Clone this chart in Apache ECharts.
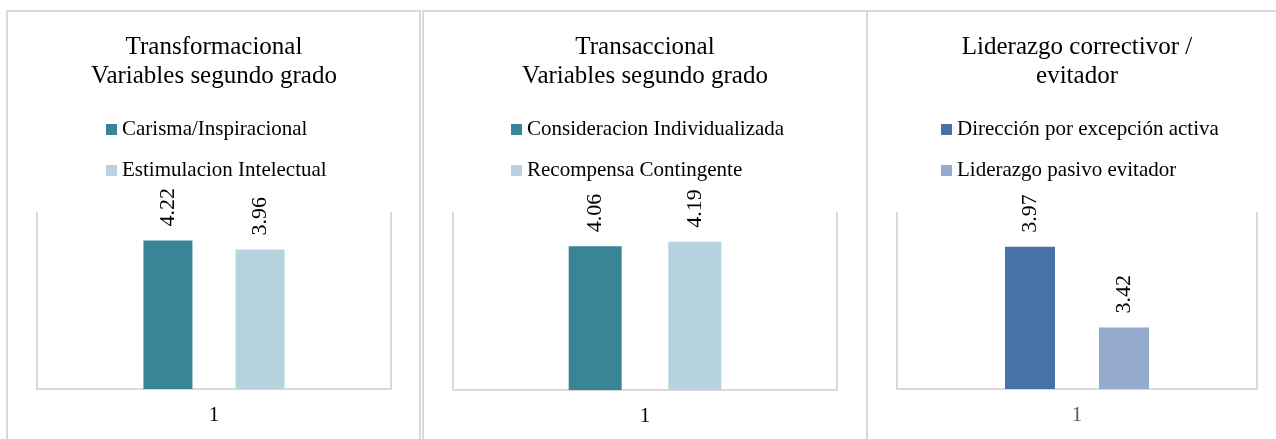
<!DOCTYPE html>
<html>
<head>
<meta charset="utf-8">
<script src="https://cdn.jsdelivr.net/npm/echarts@6/dist/echarts.min.js"></script>
<style>
  html, body { margin: 0; padding: 0; background: #fff; }
  #chart { width: 1276px; height: 439px; }
</style>
</head>
<body>
<div id="chart"></div>
<script>
const titles = ['Transformacional\nVariables segundo grado', 'Transaccional\nVariables segundo grado', 'Liderazgo correctivor /\nevitador'];
const categories = ['1'];
const seriesNames = [
  ['Carisma/Inspiracional', 'Estimulacion Intelectual'],
  ['Consideracion Individualizada', 'Recompensa Contingente'],
  ['Dirección por excepción activa', 'Liderazgo pasivo evitador']
];
const seriesValues = [
  [4.22, 3.96],
  [4.06, 4.19],
  [3.97, 3.42]
];
const axisMin = [0, 0, 3];
const axisMax = [5, 5, 4.2];

const font = 'Liberation Serif';
const colors = [['#3A8498', '#B5D4DF'], ['#3A8498', '#B5D4DF'], ['#4672A6', '#95AACF']];
const grids = [
  { left: 37, top: 213, width: 354, height: 176 },
  { left: 453, top: 213, width: 384, height: 177 },
  { left: 897, top: 213, width: 360, height: 176 }
];
const centers = [214, 645, 1077];
const legendLeft = [106, 511, 941];
const barWidths = [49, 53, 50];
const xLabelColors = ['#000', '#000', '#595959'];

function buildOption() {
  const option = {
    animation: false,
    textStyle: { fontFamily: font },
    title: [], legend: [], grid: [], xAxis: [], yAxis: [], series: [],
    graphic: [
      { type: 'rect', shape: { x: 7, y: 11, width: 413, height: 440 }, style: { fill: 'none', stroke: '#d9d9d9', lineWidth: 2 } },
      { type: 'rect', shape: { x: 423, y: 11, width: 444, height: 440 }, style: { fill: 'none', stroke: '#d9d9d9', lineWidth: 2 } },
      { type: 'rect', shape: { x: 867, y: 11, width: 420, height: 440 }, style: { fill: 'none', stroke: '#d9d9d9', lineWidth: 2 } }
    ]
  };
  for (let i = 0; i < 3; i++) {
    option.title.push({
      text: titles[i], left: centers[i], top: 33, textAlign: 'center', padding: 0,
      textStyle: { fontFamily: font, fontSize: 25, fontWeight: 'normal', color: '#000', lineHeight: 29 }
    });
    option.legend.push({
      data: seriesNames[i], orient: 'vertical', left: legendLeft[i], top: 119, padding: 0,
      itemWidth: 11, itemHeight: 11, itemGap: 20, icon: 'rect',
      textStyle: { fontFamily: font, fontSize: 21, color: '#000', lineHeight: 20, padding: [0, 0, 0, 0] }
    });
    option.grid.push(grids[i]);
    option.xAxis.push({
      type: 'category', gridIndex: i, data: categories,
      axisLine: { lineStyle: { color: '#d9d9d9', width: 2 } },
      axisTick: { show: false },
      axisLabel: { fontFamily: font, fontSize: 21, color: xLabelColors[i], margin: 16 }
    });
    option.yAxis.push({
      type: 'value', gridIndex: i, min: axisMin[i], max: axisMax[i],
      axisLine: { show: true, lineStyle: { color: '#d9d9d9', width: 2 } },
      axisLabel: { show: false }, axisTick: { show: false }, splitLine: { show: false }
    });
    option.yAxis.push({
      type: 'value', gridIndex: i, position: 'right', min: axisMin[i], max: axisMax[i],
      axisLine: { show: true, lineStyle: { color: '#d9d9d9', width: 2 } },
      axisLabel: { show: false }, axisTick: { show: false }, splitLine: { show: false }
    });
    seriesNames[i].forEach((name, j) => {
      option.series.push({
        name: name, type: 'bar', xAxisIndex: i, yAxisIndex: i * 2,
        data: [seriesValues[i][j]], barWidth: barWidths[i], barGap: '88%',
        itemStyle: { color: colors[i][j] },
        label: {
          show: true, position: 'top', rotate: 90, align: 'left', verticalAlign: 'middle',
          distance: 14, fontFamily: font, fontSize: 22, color: '#000',
          formatter: (p) => p.value.toFixed(2)
        }
      });
    });
  }
  return option;
}

const chart = echarts.init(document.getElementById('chart'));
chart.setOption(buildOption());
</script>
</body>
</html>
